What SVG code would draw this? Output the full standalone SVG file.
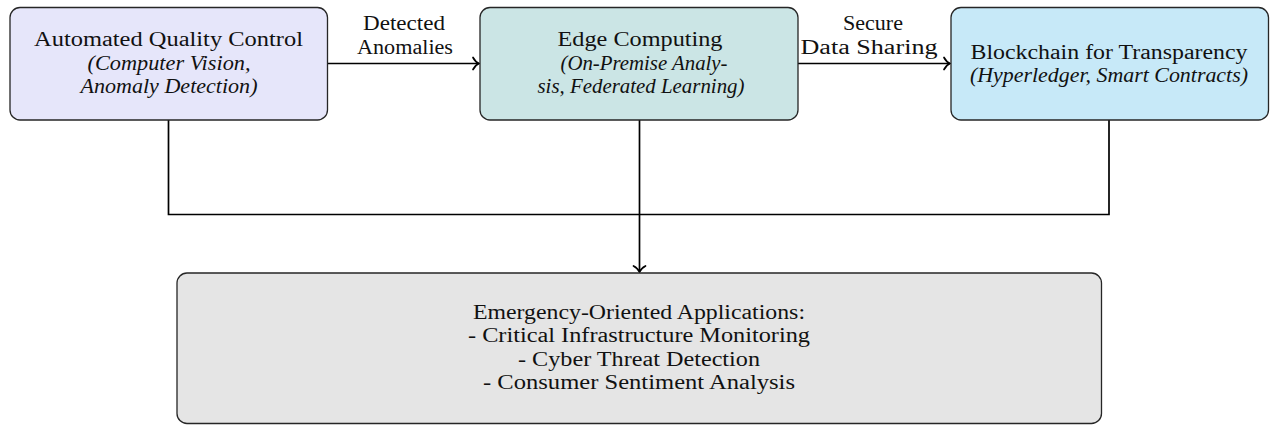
<svg xmlns="http://www.w3.org/2000/svg" width="1274" height="425" viewBox="0 0 1274 425">
  <style>
    .box { stroke: #262626; stroke-width: 1.3; }
    .t { font-family: "Liberation Serif", "Times New Roman", serif; font-size: 20px; fill: #111; text-anchor: middle; }
    .it { font-style: italic; }
    .wire { fill: none; stroke: #000; stroke-width: 1.7; }
  </style>
  <defs>
    <marker id="to" markerUnits="userSpaceOnUse" markerWidth="16" markerHeight="16" viewBox="-8 -8 16 16" refX="0" refY="0" orient="auto">
      <path d="M -6 -6 C -4.2 -2.6, -2 -0.8, 0 0 C -2 0.8, -4.2 2.6, -6 6" fill="none" stroke="#000" stroke-width="1.7" stroke-linecap="round"/>
    </marker>
  </defs>

  <rect width="1274" height="425" fill="#fff"/>

  <!-- connectors -->
  <g id="connectors">
    <line class="wire" x1="327.5" y1="63.5" x2="479" y2="63.5" marker-end="url(#to)"/>
    <line class="wire" x1="798" y1="63.5" x2="950" y2="63.5" marker-end="url(#to)"/>
    <polyline class="wire" points="168.5,120 168.5,214.5 1109,214.5 1109,120"/>
    <line class="wire" x1="639.5" y1="120" x2="639.5" y2="272" marker-end="url(#to)"/>
    <text class="t" x="404" y="30" textLength="82" lengthAdjust="spacingAndGlyphs">Detected</text>
    <text class="t" x="405" y="53.5" textLength="96" lengthAdjust="spacingAndGlyphs">Anomalies</text>
    <text class="t" x="873" y="30" textLength="60" lengthAdjust="spacingAndGlyphs">Secure</text>
    <text class="t" x="869" y="53.5" textLength="137" lengthAdjust="spacingAndGlyphs">Data Sharing</text>
  </g>

  <!-- quality control node -->
  <g id="qc">
    <rect class="box" x="10" y="7.5" width="317.5" height="112.5" rx="10" fill="#E6E6FA"/>
    <text class="t" x="168.5" y="46" textLength="269" lengthAdjust="spacingAndGlyphs">Automated Quality Control</text>
    <text class="t it" x="169" y="69.5" textLength="163" lengthAdjust="spacingAndGlyphs">(Computer Vision,</text>
    <text class="t it" x="169" y="93" textLength="177" lengthAdjust="spacingAndGlyphs">Anomaly Detection)</text>
  </g>

  <!-- edge computing node -->
  <g id="edge">
    <rect class="box" x="480" y="7.5" width="318" height="112.5" rx="10" fill="#CBE5E5"/>
    <text class="t" x="640" y="46" textLength="165" lengthAdjust="spacingAndGlyphs">Edge Computing</text>
    <text class="t it" x="644" y="69.5" textLength="167" lengthAdjust="spacingAndGlyphs">(On-Premise Analy-</text>
    <text class="t it" x="641" y="93" textLength="207" lengthAdjust="spacingAndGlyphs">sis, Federated Learning)</text>
  </g>

  <!-- blockchain node -->
  <g id="blockchain">
    <rect class="box" x="951" y="7.5" width="317.5" height="112.5" rx="10" fill="#C7E9F8"/>
    <text class="t" x="1109" y="58.5" textLength="277" lengthAdjust="spacingAndGlyphs">Blockchain for Transparency</text>
    <text class="t it" x="1109" y="81.5" textLength="278" lengthAdjust="spacingAndGlyphs">(Hyperledger, Smart Contracts)</text>
  </g>

  <!-- applications node -->
  <g id="apps">
    <rect class="box" x="177" y="273" width="924.5" height="150.5" rx="10" fill="#E5E5E5"/>
    <text class="t" x="639" y="318.5" textLength="332" lengthAdjust="spacingAndGlyphs">Emergency-Oriented Applications:</text>
    <text class="t" x="639" y="342" textLength="342" lengthAdjust="spacingAndGlyphs">- Critical Infrastructure Monitoring</text>
    <text class="t" x="639" y="365.5" textLength="242" lengthAdjust="spacingAndGlyphs">- Cyber Threat Detection</text>
    <text class="t" x="639" y="389" textLength="312" lengthAdjust="spacingAndGlyphs">- Consumer Sentiment Analysis</text>
  </g>
</svg>
